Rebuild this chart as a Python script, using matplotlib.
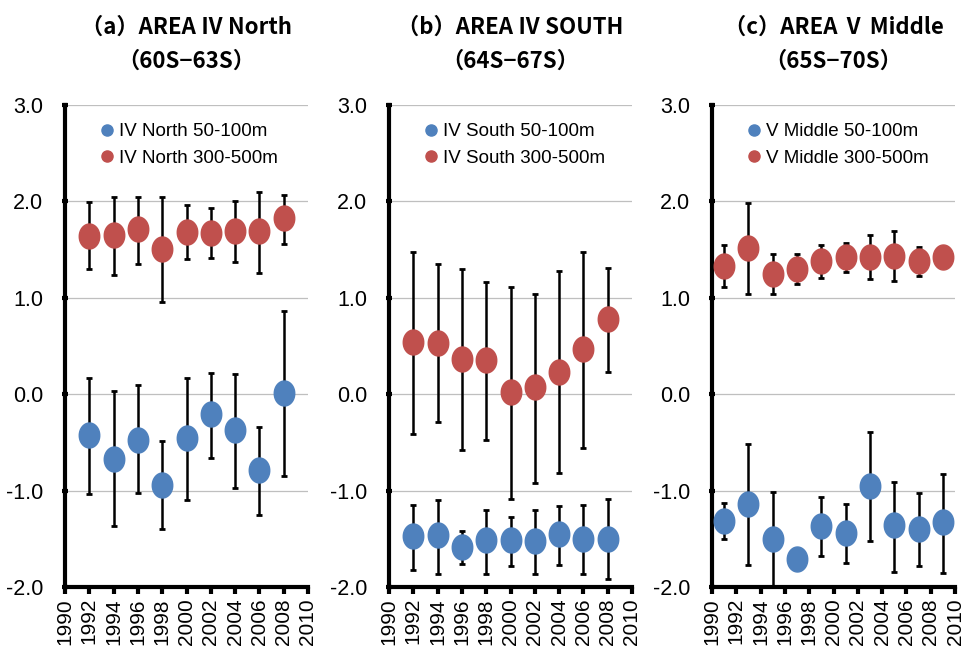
import matplotlib
matplotlib.use("Agg")
import matplotlib.pyplot as plt
import numpy as np
from matplotlib.lines import Line2D

BLUE = "#4F81BD"
RED = "#C0504D"

TITLES = ["（a）AREA Ⅳ North\n（60S−63S）",
          "（b）AREA Ⅳ SOUTH\n（64S−67S）",
          "（c）AREA Ⅴ Middle\n（65S−70S）"]
LABELS_SHALLOW = ["IV North 50-100m", "IV South 50-100m", "V Middle 50-100m"]
LABELS_DEEP = ["IV North 300-500m", "IV South 300-500m", "V Middle 300-500m"]

YEARS_AB = [1992, 1994, 1996, 1998, 2000, 2002, 2004, 2006, 2008]
YEARS_C = [1991, 1993, 1995, 1997, 1999, 2001, 2003, 2005, 2007, 2009]

# (a) AREA IV North
a_deep = [1.64, 1.65, 1.71, 1.51, 1.68, 1.67, 1.69, 1.69, 1.83]
a_deep_lo = [1.30, 1.24, 1.35, 0.96, 1.40, 1.41, 1.37, 1.26, 1.56]
a_deep_hi = [1.99, 2.05, 2.05, 2.05, 1.96, 1.93, 2.00, 2.10, 2.07]
a_shal = [-0.42, -0.67, -0.47, -0.94, -0.45, -0.21, -0.37, -0.79, 0.01]
a_shal_lo = [-1.04, -1.37, -1.03, -1.40, -1.10, -0.66, -0.97, -1.25, -0.85]
a_shal_hi = [0.17, 0.03, 0.10, -0.49, 0.17, 0.22, 0.21, -0.34, 0.86]

# (b) AREA IV SOUTH
b_deep = [0.54, 0.53, 0.37, 0.35, 0.02, 0.07, 0.23, 0.47, 0.78]
b_deep_lo = [-0.41, -0.29, -0.58, -0.48, -1.09, -0.92, -0.82, -0.56, 0.23]
b_deep_hi = [1.48, 1.35, 1.30, 1.16, 1.11, 1.04, 1.28, 1.48, 1.31]
b_shal = [-1.47, -1.46, -1.58, -1.51, -1.51, -1.52, -1.45, -1.50, -1.50]
b_shal_lo = [-1.82, -1.86, -1.76, -1.86, -1.78, -1.86, -1.77, -1.87, -1.92]
b_shal_hi = [-1.15, -1.10, -1.42, -1.20, -1.27, -1.20, -1.16, -1.15, -1.09]

# (c) AREA V Middle
c_deep = [1.33, 1.52, 1.25, 1.30, 1.38, 1.42, 1.42, 1.43, 1.38, 1.42]
c_deep_lo = [1.11, 1.04, 1.04, 1.14, 1.21, 1.27, 1.19, 1.17, 1.23, 1.40]
c_deep_hi = [1.55, 1.98, 1.45, 1.45, 1.55, 1.57, 1.65, 1.69, 1.53, 1.44]
c_shal = [-1.32, -1.14, -1.50, -1.71, -1.37, -1.44, -0.95, -1.36, -1.40, -1.33]
c_shal_lo = [-1.50, -1.77, -2.00, -1.71, -1.68, -1.75, -1.52, -1.84, -1.78, -1.85]
c_shal_hi = [-1.13, -0.52, -1.01, -1.71, -1.07, -1.14, -0.39, -0.91, -1.02, -0.83]

PANELS = [
    (YEARS_AB, a_shal, a_shal_lo, a_shal_hi, a_deep, a_deep_lo, a_deep_hi),
    (YEARS_AB, b_shal, b_shal_lo, b_shal_hi, b_deep, b_deep_lo, b_deep_hi),
    (YEARS_C, c_shal, c_shal_lo, c_shal_hi, c_deep, c_deep_lo, c_deep_hi),
]

TEXT_FONT = ["Liberation Sans Narrow", "Liberation Sans", "DejaVu Sans"]
TITLE_FONT = ["Noto Sans CJK JP", "DejaVu Sans"]

# slightly tall ellipse marker, as in the original
t = np.linspace(0, 2 * np.pi, 60)
ELLIPSE = np.column_stack([0.82 * np.cos(t), np.sin(t)])

fig = plt.figure(figsize=(9.65, 6.57), dpi=100)
lefts = [65, 389, 712]

for i, (left, panel) in enumerate(zip(lefts, PANELS)):
    years, s, s_lo, s_hi, d, d_lo, d_hi = panel
    ax = fig.add_axes([left / 965, 70 / 657, 243 / 965, 482 / 657])
    s, d = np.array(s), np.array(d)

    for vals, lo, hi, col in [(d, d_lo, d_hi, RED), (s, s_lo, s_hi, BLUE)]:
        err = [vals - np.array(lo), np.array(hi) - vals]
        ax.errorbar(years, vals, yerr=err, fmt="none", ecolor="black",
                    elinewidth=1.8, capsize=2.2, capthick=2, zorder=3)
        ax.plot(years, vals, ls="none", marker=ELLIPSE, ms=18,
                mfc=col, mec=col, zorder=4)

    ax.set_xlim(1990, 2010)
    ax.set_ylim(-2, 3)
    ax.set_xticks(range(1990, 2011, 2))
    ax.set_xticklabels([str(y) for y in range(1990, 2011, 2)], rotation=90,
                       fontsize=15, family=TEXT_FONT)
    ax.set_yticks([-2, -1, 0, 1, 2, 3])
    ax.set_yticklabels([f"{v:.1f}" for v in [-2, -1, 0, 1, 2, 3]],
                       fontsize=15.5, family=TEXT_FONT)
    ax.grid(axis="y", color="#BFBFBF", lw=0.9)
    ax.set_axisbelow(True)
    for side in ["top", "right"]:
        ax.spines[side].set_visible(False)
    for side in ["left", "bottom"]:
        ax.spines[side].set_linewidth(3)
    ax.tick_params(axis="y", direction="inout", length=5, width=3, pad=13)
    ax.tick_params(axis="x", direction="out", length=5, width=3, pad=3)

    handles = [Line2D([], [], ls="none", marker="o", ms=8, mfc=BLUE, mec=BLUE),
               Line2D([], [], ls="none", marker="o", ms=8, mfc=RED, mec=RED)]
    ax.legend(handles, [LABELS_SHALLOW[i], LABELS_DEEP[i]], loc="upper left",
              bbox_to_anchor=(0.12, 0.978), frameon=False, handlelength=0.6,
              handletextpad=0.3, labelspacing=0.5, borderaxespad=0,
              prop={"family": TEXT_FONT, "size": 13.5})

    ax.set_title(TITLES[i], family=TITLE_FONT, fontweight="bold",
                 fontsize=16, pad=27, linespacing=1.6)

fig.savefig("out.png", dpi=100)
